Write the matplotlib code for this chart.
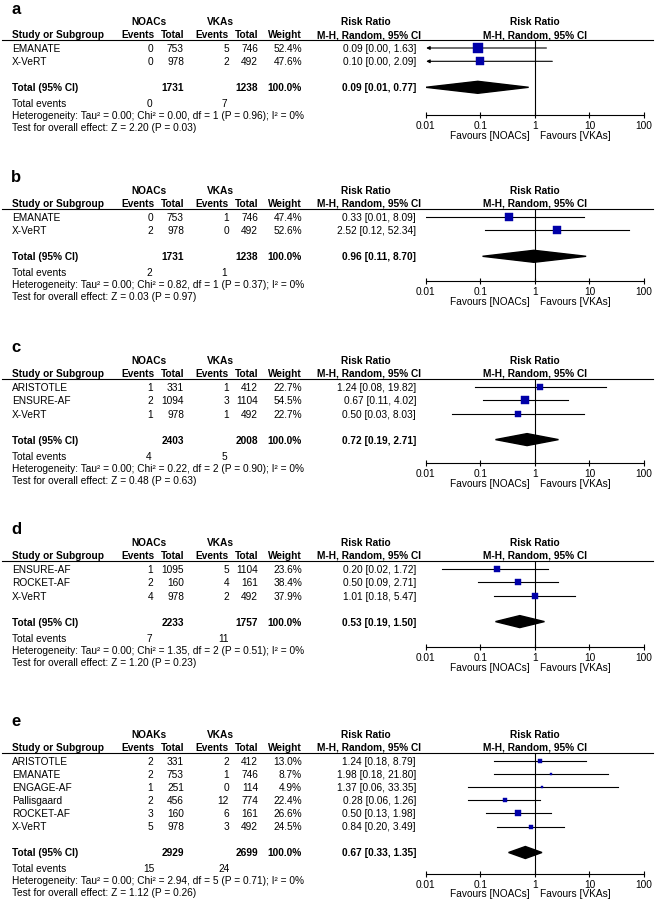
import matplotlib
matplotlib.use('Agg')
import matplotlib.pyplot as plt
from matplotlib.lines import Line2D
from matplotlib.patches import Polygon
from matplotlib.ticker import NullLocator

plt.rcParams['font.family'] = ['Liberation Sans', 'DejaVu Sans']
plt.rcParams['font.size'] = 7.3

# ---- data ----
studies_a = ['EMANATE', 'X-VeRT']
noac_ev_a = [0, 0]
noac_n_a = [753, 978]
vka_ev_a = [5, 2]
vka_n_a = [746, 492]
weight_a = [52.4, 47.6]
rr_a = [0.09, 0.10]
lo_a = [0.00, 0.00]
hi_a = [1.63, 2.09]
total_a = [1731, 1238, 0.09, 0.01, 0.77]   # n NOAC, n VKA, RR, lo, hi
events_a = [0, 7]
het_a = ['0.00', '0.00', 1, '0.96', '0%']   # tau2, chi2, df, P, I2
z_a = ['2.20', '0.03']

studies_b = ['EMANATE', 'X-VeRT']
noac_ev_b = [0, 2]
noac_n_b = [753, 978]
vka_ev_b = [1, 0]
vka_n_b = [746, 492]
weight_b = [47.4, 52.6]
rr_b = [0.33, 2.52]
lo_b = [0.01, 0.12]
hi_b = [8.09, 52.34]
total_b = [1731, 1238, 0.96, 0.11, 8.70]
events_b = [2, 1]
het_b = ['0.00', '0.82', 1, '0.37', '0%']
z_b = ['0.03', '0.97']

studies_c = ['ARISTOTLE', 'ENSURE-AF', 'X-VeRT']
noac_ev_c = [1, 2, 1]
noac_n_c = [331, 1094, 978]
vka_ev_c = [1, 3, 1]
vka_n_c = [412, 1104, 492]
weight_c = [22.7, 54.5, 22.7]
rr_c = [1.24, 0.67, 0.50]
lo_c = [0.08, 0.11, 0.03]
hi_c = [19.82, 4.02, 8.03]
total_c = [2403, 2008, 0.72, 0.19, 2.71]
events_c = [4, 5]
het_c = ['0.00', '0.22', 2, '0.90', '0%']
z_c = ['0.48', '0.63']

studies_d = ['ENSURE-AF', 'ROCKET-AF', 'X-VeRT']
noac_ev_d = [1, 2, 4]
noac_n_d = [1095, 160, 978]
vka_ev_d = [5, 4, 2]
vka_n_d = [1104, 161, 492]
weight_d = [23.6, 38.4, 37.9]
rr_d = [0.20, 0.50, 1.01]
lo_d = [0.02, 0.09, 0.18]
hi_d = [1.72, 2.71, 5.47]
total_d = [2233, 1757, 0.53, 0.19, 1.50]
events_d = [7, 11]
het_d = ['0.00', '1.35', 2, '0.51', '0%']
z_d = ['1.20', '0.23']

studies_e = ['ARISTOTLE', 'EMANATE', 'ENGAGE-AF', 'Pallisgaard', 'ROCKET-AF', 'X-VeRT']
noac_ev_e = [2, 2, 1, 2, 3, 5]
noac_n_e = [331, 753, 251, 456, 160, 978]
vka_ev_e = [2, 1, 0, 12, 6, 3]
vka_n_e = [412, 746, 114, 774, 161, 492]
weight_e = [13.0, 8.7, 4.9, 22.4, 26.6, 24.5]
rr_e = [1.24, 1.98, 1.37, 0.28, 0.50, 0.84]
lo_e = [0.18, 0.18, 0.06, 0.06, 0.13, 0.20]
hi_e = [8.79, 21.80, 33.35, 1.26, 1.98, 3.49]
total_e = [2929, 2699, 0.67, 0.33, 1.35]
events_e = [15, 24]
het_e = ['0.00', '2.94', 5, '0.71', '0%']
z_e = ['1.12', '0.26']

panels = [
    ('a', 'NOACs', studies_a, noac_ev_a, noac_n_a, vka_ev_a, vka_n_a, weight_a, rr_a, lo_a, hi_a, total_a, events_a, het_a, z_a),
    ('b', 'NOACs', studies_b, noac_ev_b, noac_n_b, vka_ev_b, vka_n_b, weight_b, rr_b, lo_b, hi_b, total_b, events_b, het_b, z_b),
    ('c', 'NOACs', studies_c, noac_ev_c, noac_n_c, vka_ev_c, vka_n_c, weight_c, rr_c, lo_c, hi_c, total_c, events_c, het_c, z_c),
    ('d', 'NOACs', studies_d, noac_ev_d, noac_n_d, vka_ev_d, vka_n_d, weight_d, rr_d, lo_d, hi_d, total_d, events_d, het_d, z_d),
    ('e', 'NOAKs', studies_e, noac_ev_e, noac_n_e, vka_ev_e, vka_n_e, weight_e, rr_e, lo_e, hi_e, total_e, events_e, het_e, z_e),
]

# layout (pixels)
first_row = [49, 218, 388, 570, 762]
row_step = [13.3, 13.3, 13.3, 13.3, 13.1]
axis_gap = [28, 25, 23, 25, 21]      # total row -> axis line
box_scale = [1.25, 1.2, 1.05, 1.08, 1.0]
BLUE = '#0000a8'

W, H = 657, 904
fig = plt.figure(figsize=(W / 100, H / 100), dpi=100)


def fx(px):
    return px / W


def fy(py):
    return 1 - py / H


def txt(x, y, s, ha='left', bold=False, size=None):
    fig.text(fx(x), fy(y), s, ha=ha, va='center',
             fontweight='bold' if bold else 'normal', fontsize=size)


for k, p in enumerate(panels):
    (letter, grp, studies, nev, nn, vev, vn, wts, rr, lo, hi,
     tot, evs, het, z) = p
    r0 = first_row[k]
    rows = [r0 + row_step[k] * i for i in range(len(studies))]
    y_tot = rows[-1] + 26
    y_ev = y_tot + 16
    y_het = y_ev + 12
    y_z = y_het + 12
    y_line = r0 - 8
    y_axis = y_tot + axis_gap[k]

    # headers
    txt(11, r0 - 40, letter, bold=True, size=12)
    txt(149, r0 - 27, grp, ha='center', bold=True)
    txt(220, r0 - 27, 'VKAs', ha='center', bold=True)
    txt(366, r0 - 27, 'Risk Ratio', ha='center', bold=True)
    txt(12, r0 - 14, 'Study or Subgroup', bold=True)
    for x, s in [(155, 'Events'), (184, 'Total'), (229, 'Events'), (258, 'Total'), (302, 'Weight')]:
        txt(x, r0 - 14, s, ha='right', bold=True)
    txt(421, r0 - 14, 'M-H, Random, 95% CI', ha='right', bold=True)
    fig.add_artist(Line2D([fx(2), fx(653)], [fy(y_line), fy(y_line)], color='black', lw=0.8))

    # study rows
    for i, y in enumerate(rows):
        txt(12, y, studies[i])
        txt(153, y, str(nev[i]), ha='right')
        txt(184, y, str(nn[i]), ha='right')
        txt(229, y, str(vev[i]), ha='right')
        txt(258, y, str(vn[i]), ha='right')
        txt(302, y, '%.1f%%' % wts[i], ha='right')
        txt(416, y, '%.2f [%.2f, %.2f]' % (rr[i], lo[i], hi[i]), ha='right')

    txt(12, y_tot, 'Total (95% CI)', bold=True)
    txt(184, y_tot, str(tot[0]), ha='right', bold=True)
    txt(258, y_tot, str(tot[1]), ha='right', bold=True)
    txt(302, y_tot, '100.0%', ha='right', bold=True)
    txt(416, y_tot, '%.2f [%.2f, %.2f]' % (tot[2], tot[3], tot[4]), ha='right', bold=True)
    txt(12, y_ev, 'Total events')
    txt(149, y_ev, str(evs[0]), ha='center')
    txt(224, y_ev, str(evs[1]), ha='center')
    txt(12, y_het, 'Heterogeneity: Tau\u00b2 = %s; Chi\u00b2 = %s, df = %d (P = %s); I\u00b2 = %s' % tuple(het))
    txt(12, y_z, 'Test for overall effect: Z = %s (P = %s)' % tuple(z))

    # forest plot
    x0, x1 = 425.7, 644
    ax = fig.add_axes([fx(x0), fy(y_axis), (x1 - x0) / W, (y_axis - y_line) / H])
    ax.set_xscale('log')
    ax.set_xlim(0.01, 100)
    ax.set_ylim(y_axis, y_line)
    ax.patch.set_alpha(0)
    for s in ['top', 'right', 'left']:
        ax.spines[s].set_visible(False)
    ax.spines['bottom'].set_linewidth(0.8)
    ax.set_yticks([])
    ax.set_xticks([0.01, 0.1, 1, 10, 100])
    ax.set_xticklabels(['0.01', '0.1', '1', '10', '100'])
    ax.xaxis.set_minor_locator(NullLocator())
    ax.tick_params(axis='x', direction='inout', length=5, width=0.8, pad=1.2, labelsize=7.3)
    ax.axvline(1, color='black', lw=0.8)

    for i, y in enumerate(rows):
        if lo[i] < 0.01:
            ax.annotate('', xy=(0.0102, y), xytext=(hi[i], y),
                        arrowprops=dict(arrowstyle='-|>', color='black', lw=0.8,
                                        mutation_scale=5, shrinkA=0, shrinkB=0))
        else:
            ax.plot([lo[i], hi[i]], [y, y], color='black', lw=0.8)
        side = box_scale[k] * wts[i] ** 0.5
        ax.plot(rr[i], y, marker='s', ms=side * 0.72, color=BLUE, mec=BLUE, mew=0.3, zorder=3)

    ax.add_patch(Polygon([(tot[3], y_tot), (tot[2], y_tot - 6), (tot[4], y_tot), (tot[2], y_tot + 6)],
                         closed=True, color='black', zorder=3))

    ax.annotate('Risk Ratio', xy=(1, 1), xycoords=('data', 'axes fraction'),
                xytext=(0, 19 * 0.72), textcoords='offset points', ha='center', va='center',
                fontweight='bold')
    ax.annotate('M-H, Random, 95% CI', xy=(1, 1), xycoords=('data', 'axes fraction'),
                xytext=(0, 6 * 0.72), textcoords='offset points', ha='center', va='center',
                fontweight='bold')
    ax.annotate('Favours [NOACs]', xy=(1, 0), xycoords=('data', 'axes fraction'),
                xytext=(-3.5, -20 * 0.72), textcoords='offset points', ha='right', va='center')
    ax.annotate('Favours [VKAs]', xy=(1, 0), xycoords=('data', 'axes fraction'),
                xytext=(3.5, -20 * 0.72), textcoords='offset points', ha='left', va='center')

fig.savefig('out.png', dpi=100)
